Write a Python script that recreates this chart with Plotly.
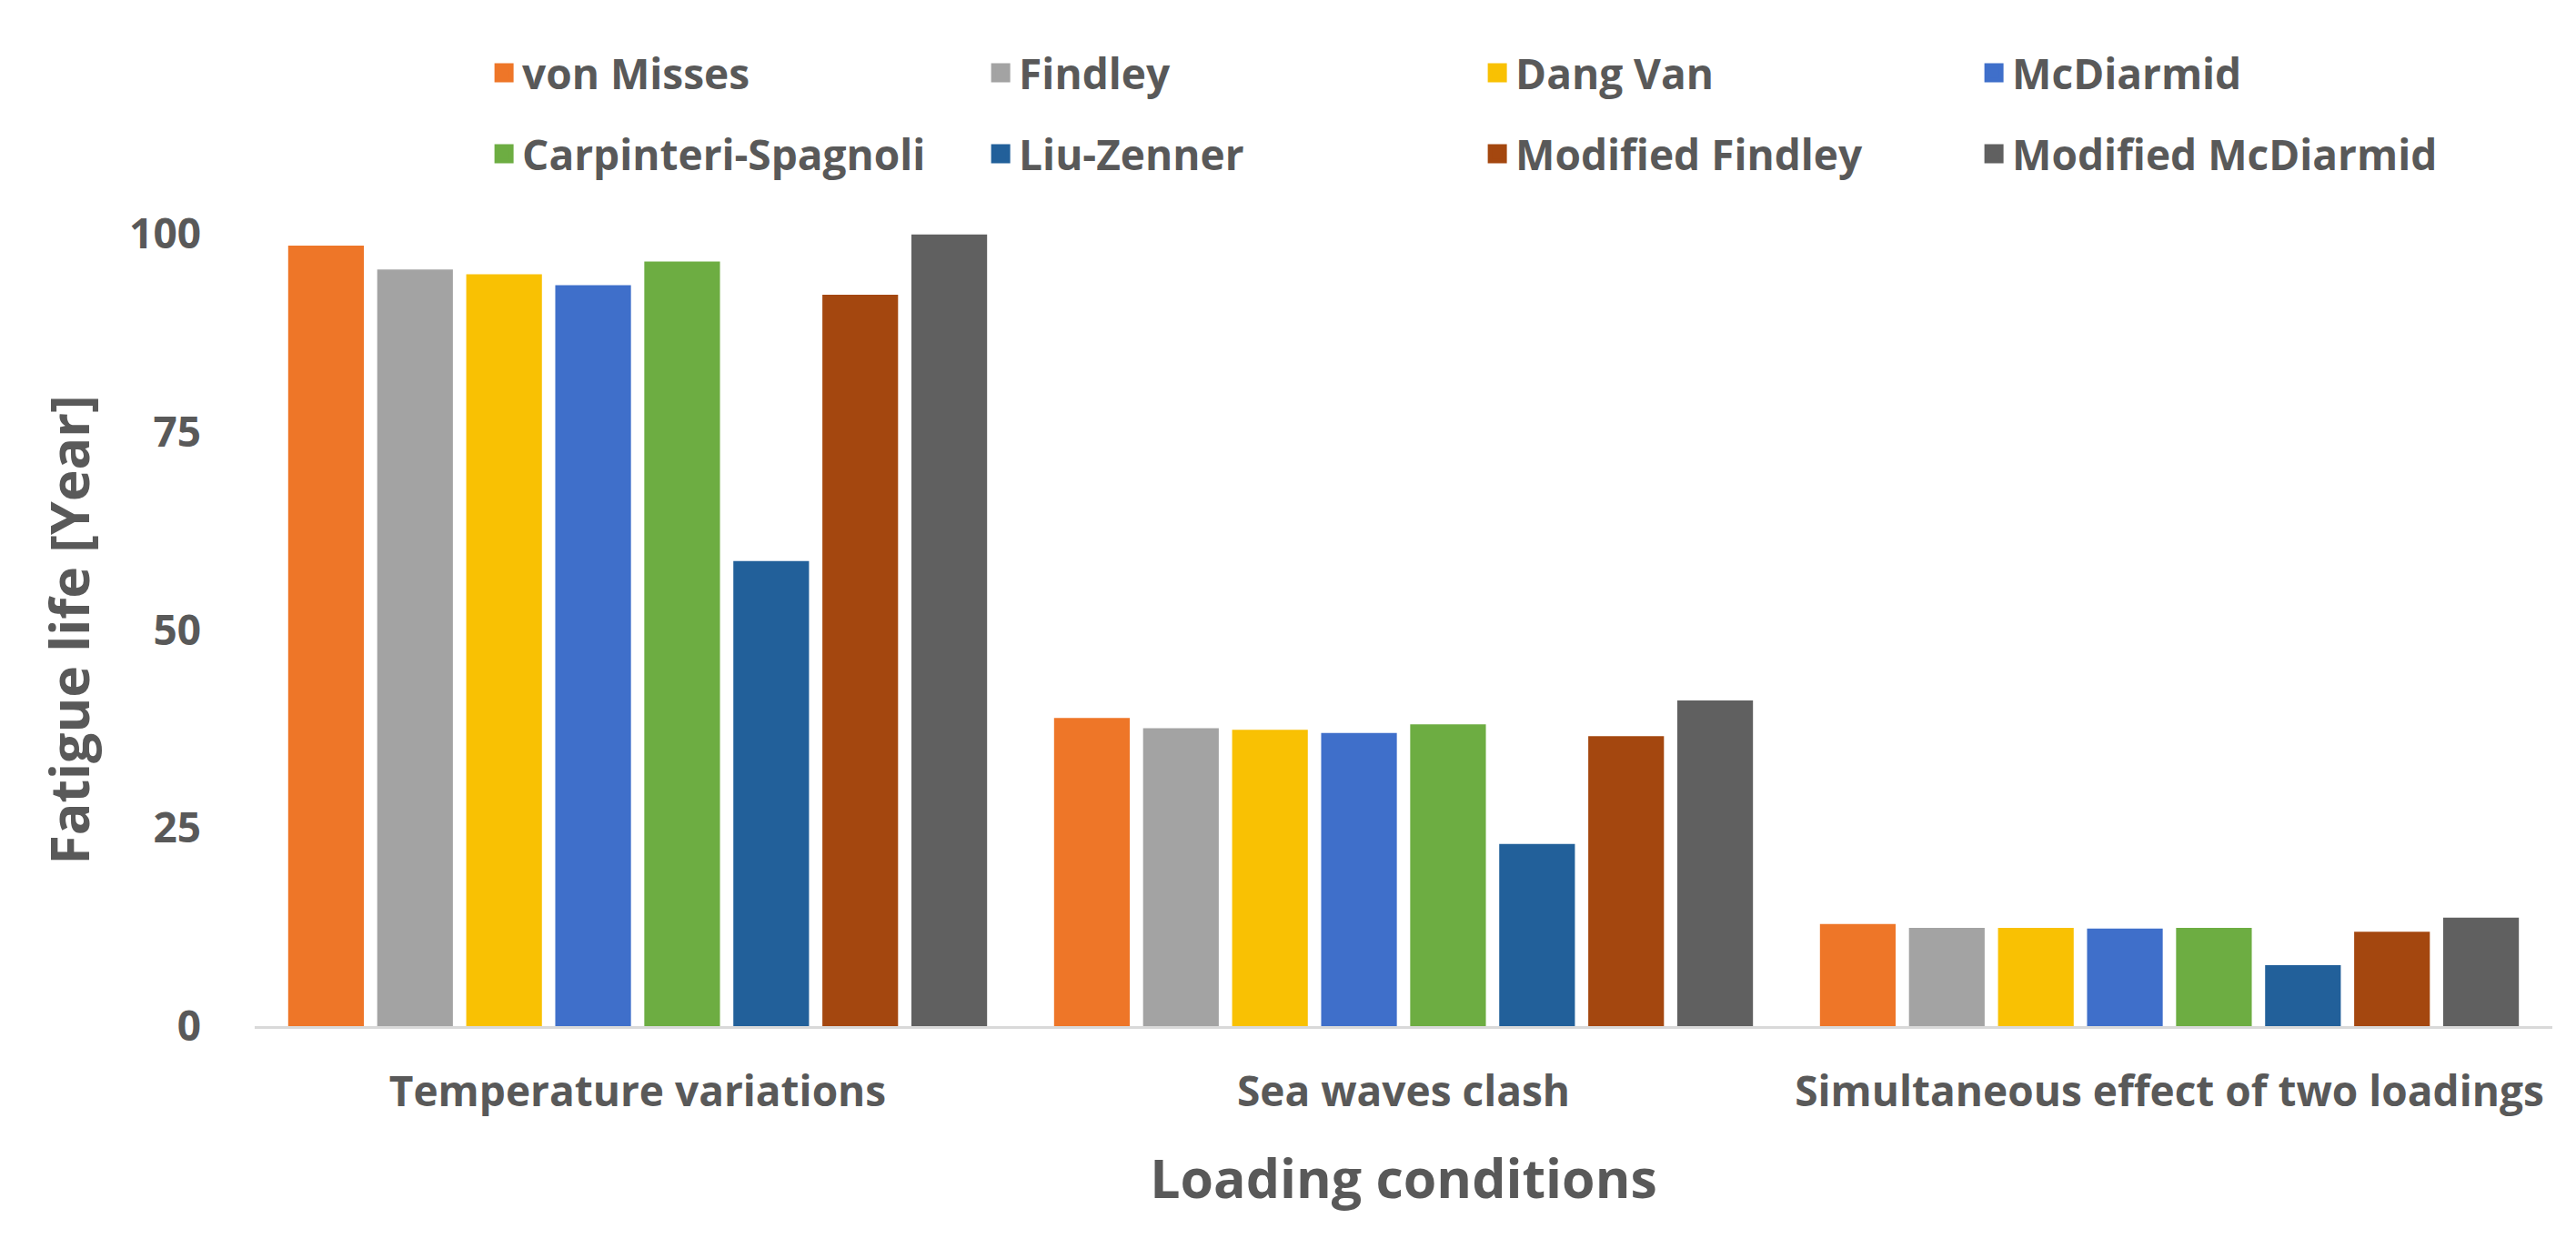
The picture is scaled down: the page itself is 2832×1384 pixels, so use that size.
import plotly.graph_objects as go

# ── Data ──────────────────────────────────────────────────────────────────────
CONDITIONS = ["Temperature variations", "Sea waves clash",
              "Simultaneous effect of two loadings"]

CRITERIA = ["von Misses", "Findley", "Dang Van", "McDiarmid",
            "Carpinteri-Spagnoli", "Liu-Zenner", "Modified Findley",
            "Modified McDiarmid"]

von_misses = [98.5, 38.9, 12.9]
findley = [95.5, 37.6, 12.4]
dang_van = [94.9, 37.4, 12.4]
mcdiarmid = [93.5, 37.0, 12.3]
carpinteri_spagnoli = [96.5, 38.1, 12.4]
liu_zenner = [58.7, 23.0, 7.7]
modified_findley = [92.3, 36.6, 11.9]
modified_mcdiarmid = [99.9, 41.1, 13.7]

SERIES = [von_misses, findley, dang_van, mcdiarmid, carpinteri_spagnoli,
          liu_zenner, modified_findley, modified_mcdiarmid]

Y_TICKS = [0, 25, 50, 75, 100]

COLORS = ["#EE7628", "#A3A3A3", "#F9C103", "#3F6FCA",
          "#6DAD42", "#22609A", "#A4470F", "#606060"]

TEXT = "#595959"
FONT = "Open Sans, Lato, sans-serif"

fig = go.Figure()

for i, (name, vals) in enumerate(zip(CRITERIA, SERIES)):
    fig.add_trace(go.Bar(
        x=CONDITIONS,
        y=vals,
        name=name,
        marker=dict(color=COLORS[i], line=dict(width=0)),
        showlegend=False,
    ))

# legend entries with bigger square swatches (bar swatches are fixed at 12px)
for i, name in enumerate(CRITERIA):
    fig.add_trace(go.Scatter(
        x=[None], y=[None],
        mode="markers",
        name=name,
        marker=dict(symbol="square", size=16, color=COLORS[i],
                    line=dict(color=COLORS[i], width=5)),
        legend="legend" if i < 4 else "legend2",
        hoverinfo="skip",
    ))

legend_style = dict(
    orientation="h",
    xanchor="left",
    x=0.1006,
    yanchor="middle",
    entrywidth=501,
    entrywidthmode="pixels",
    itemsizing="trace",
    font=dict(size=46, color=TEXT, family=FONT, weight="bold"),
    bgcolor="rgba(0,0,0,0)",
)

fig.update_layout(
    width=2832,
    height=1384,
    paper_bgcolor="white",
    plot_bgcolor="white",
    font=dict(family=FONT, color=TEXT),
    barmode="group",
    bargap=0.07,
    bargroupgap=0.15,
    margin=dict(l=272, r=34, t=249, b=264, autoexpand=False),
    legend=dict(legend_style, y=1.203),
    legend2=dict(legend_style, y=1.101),
    xaxis=dict(
        showline=True,
        linecolor="#D9D9D9",
        linewidth=3,
        showgrid=False,
        ticks="",
        ticklabelstandoff=30,
        tickfont=dict(size=46, color=TEXT, family=FONT, weight="bold"),
        title=dict(text="Loading conditions", standoff=48,
                   font=dict(size=59, color=TEXT, family=FONT, weight="bold")),
    ),
    yaxis=dict(
        range=[0, 100],
        tickvals=Y_TICKS,
        showline=False,
        showgrid=False,
        zeroline=False,
        ticks="",
        ticklabelstandoff=58,
        tickfont=dict(size=46, color=TEXT, family=FONT, weight="bold"),
        title=dict(text="Fatigue life [Year]", standoff=24,
                   font=dict(size=59, color=TEXT, family=FONT, weight="bold")),
    ),
)

fig.write_html("out.html")
